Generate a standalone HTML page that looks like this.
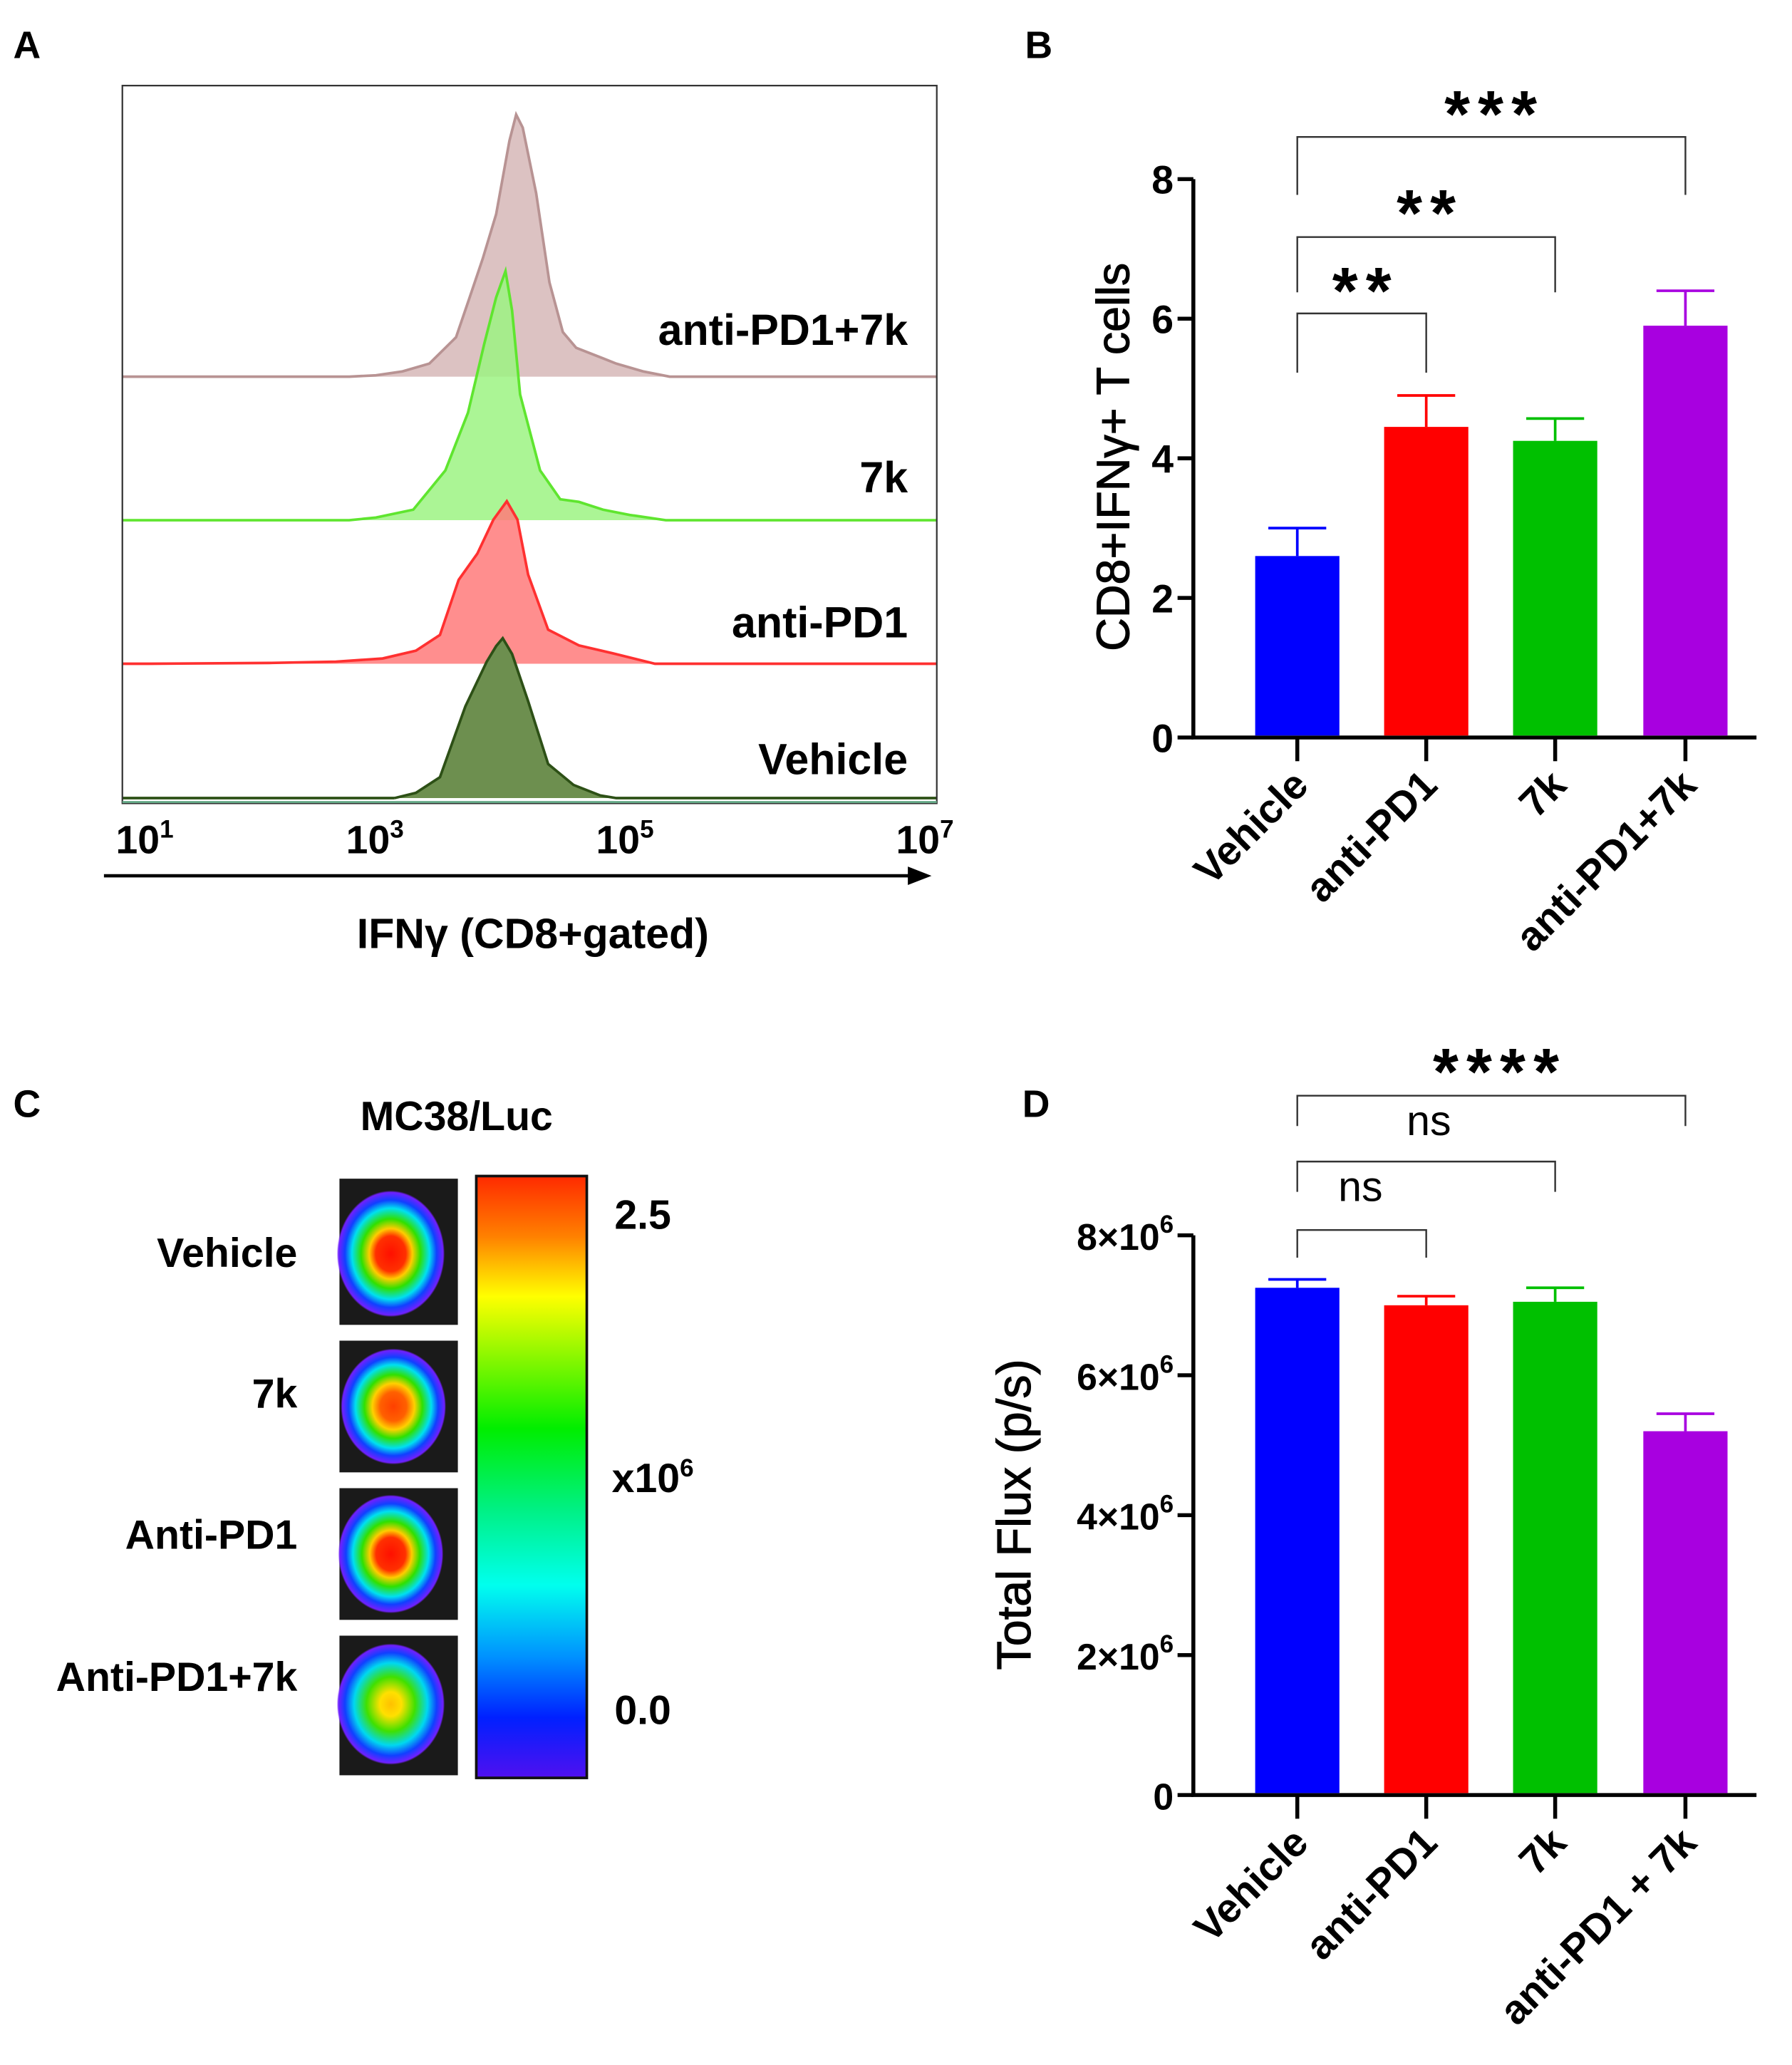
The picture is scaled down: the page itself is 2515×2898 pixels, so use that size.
<!DOCTYPE html>
<html><head><meta charset="utf-8"><style>
html,body{margin:0;padding:0;background:#fff;}
svg{display:block;font-family:"Liberation Sans",Arial,sans-serif;font-weight:bold;}
</style></head><body>
<svg id="fig" width="2515" height="2898" viewBox="0 0 1362 1568" preserveAspectRatio="none" xmlns="http://www.w3.org/2000/svg">
<defs>
<linearGradient id="cbar" x1="0" y1="0" x2="0" y2="1">
<stop offset="0" stop-color="#ff2a00"/><stop offset="0.1" stop-color="#ff8000"/>
<stop offset="0.2" stop-color="#ffff00"/><stop offset="0.42" stop-color="#00ee00"/>
<stop offset="0.55" stop-color="#00f080"/><stop offset="0.68" stop-color="#00ffee"/>
<stop offset="0.8" stop-color="#0090ff"/><stop offset="0.9" stop-color="#0020ff"/>
<stop offset="1" stop-color="#5010f0"/></linearGradient>
<radialGradient id="t1" cx="0.5" cy="0.5" r="0.5">
<stop offset="0" stop-color="#ff1000"/><stop offset="0.28" stop-color="#ff3000"/><stop offset="0.4" stop-color="#ffcc00"/><stop offset="0.55" stop-color="#30e000"/><stop offset="0.72" stop-color="#00e0f0"/><stop offset="0.85" stop-color="#1040ff"/><stop offset="0.97" stop-color="#7020ff"/><stop offset="1" stop-color="#7020ff" stop-opacity="0"/></radialGradient>
<radialGradient id="t2" cx="0.5" cy="0.5" r="0.5">
<stop offset="0" stop-color="#ff4000"/><stop offset="0.25" stop-color="#ff6000"/><stop offset="0.4" stop-color="#ffd000"/><stop offset="0.55" stop-color="#30e000"/><stop offset="0.72" stop-color="#00e0f0"/><stop offset="0.85" stop-color="#1040ff"/><stop offset="0.97" stop-color="#7020ff"/><stop offset="1" stop-color="#7020ff" stop-opacity="0"/></radialGradient>
<radialGradient id="t4" cx="0.5" cy="0.5" r="0.5">
<stop offset="0" stop-color="#ffc000"/><stop offset="0.2" stop-color="#ffe000"/><stop offset="0.45" stop-color="#40e000"/><stop offset="0.68" stop-color="#00d8f0"/><stop offset="0.85" stop-color="#1040ff"/><stop offset="0.97" stop-color="#7020ff"/><stop offset="1" stop-color="#7020ff" stop-opacity="0"/></radialGradient>
</defs>

<!-- Panel A -->
<text x="10" y="44" font-size="29">A</text>
<g id="histA"></g>
<rect x="93" y="65" width="619" height="545" fill="none" stroke="#333" stroke-width="1.2"/>
<line x1="93" y1="609" x2="712" y2="609" stroke="#6a8" stroke-width="1.5"/>
<g font-size="30">
<text x="88" y="648">10<tspan dy="-12" font-size="19">1</tspan></text>
<text x="263" y="648">10<tspan dy="-12" font-size="19">3</tspan></text>
<text x="453" y="648">10<tspan dy="-12" font-size="19">5</tspan></text>
<text x="681" y="648">10<tspan dy="-12" font-size="19">7</tspan></text>
</g>
<line x1="79" y1="665" x2="695" y2="665" stroke="#000" stroke-width="2.5"/>
<polygon points="708,665 690,658 690,672" fill="#000"/>
<text x="405" y="720" font-size="32" text-anchor="middle">IFNγ (CD8+gated)</text>
<g font-size="33" text-anchor="end">
<text x="690" y="262">anti-PD1+7k</text>
<text x="690" y="374">7k</text>
<text x="690" y="484">anti-PD1</text>
<text x="690" y="588">Vehicle</text>
</g>

<!-- Panel B -->
<text x="779" y="44" font-size="29">B</text>
<g id="chartB"></g>
<text transform="translate(858,347) rotate(-90)" font-size="35" text-anchor="middle" style="font-weight:normal;stroke:#000;stroke-width:0.6">CD8+IFNγ+ T cells</text>

<!-- Panel C -->
<text x="10" y="848" font-size="29">C</text>
<text x="347" y="858" font-size="31" text-anchor="middle">MC38/Luc</text>
<g font-size="31" text-anchor="end">
<text x="226" y="962">Vehicle</text>
<text x="226" y="1069">7k</text>
<text x="226" y="1176">Anti-PD1</text>
<text x="226" y="1284">Anti-PD1+7k</text>
</g>
<g>
<rect x="258" y="895" width="90" height="111" fill="#1a1a1a"/>
<ellipse cx="297" cy="952" rx="41" ry="48" fill="url(#t1)"/>
<rect x="258" y="1018" width="90" height="100" fill="#1a1a1a"/>
<ellipse cx="299" cy="1068" rx="40" ry="44" fill="url(#t2)"/>
<rect x="258" y="1130" width="90" height="100" fill="#1a1a1a"/>
<ellipse cx="297" cy="1180" rx="40" ry="45" fill="url(#t1)"/>
<rect x="258" y="1242" width="90" height="106" fill="#1a1a1a"/>
<ellipse cx="297" cy="1294" rx="41" ry="46" fill="url(#t4)"/>
</g>
<rect x="362" y="893" width="84" height="457" fill="url(#cbar)" stroke="#111" stroke-width="2"/>
<g font-size="31">
<text x="467" y="933">2.5</text>
<text x="465" y="1133">x10<tspan dy="-12" font-size="19">6</tspan></text>
<text x="467" y="1309">0.0</text>
</g>

<!-- Panel D -->
<text x="777" y="848" font-size="29">D</text>
<g id="chartD"></g>
<text transform="translate(783,1150) rotate(-90)" font-size="36" text-anchor="middle" style="font-weight:normal;stroke:#000;stroke-width:0.6">Total Flux (p/s)</text>
</svg>

<script>
// ---- Panel A histogram data (x in log10 units, y in % of max count) ----
const histNames = ["anti-PD1+7k", "7k", "anti-PD1", "Vehicle"];
const histL1 = [2.6,2.8,3.0,3.2,3.4,3.5,3.6,3.7,3.8,3.85,3.9,4.0,4.1,4.2,4.3,4.4,4.5,4.6,4.8,5.0];
const histH1 = [0,0.5,2,5,15,30,45,62,90,100,95,70,36,17,11,9,7,5,2,0];
const histL2 = [2.6,2.8,3.08,3.32,3.49,3.61,3.7,3.77,3.82,3.88,4.03,4.18,4.32,4.5,4.7,4.97];
const histH2 = [0,1,4,19,41,67,85,95,80,48,19,8,7,4,2,0];
const histL3 = [1.1,2.0,2.5,2.85,3.1,3.28,3.42,3.56,3.68,3.78,3.86,3.94,4.09,4.32,4.57,4.89];
const histH3 = [0,0.3,0.8,2,5,11,32,42,55,62,55,34,13,7,4,0];
const histL4 = [2.94,3.1,3.28,3.47,3.63,3.7,3.75,3.82,3.94,4.09,4.28,4.48,4.6];
const histH4 = [0,2,8,35,52,58,61,55,37,13,5,1,0];
const histBase = [286, 395, 504, 606];
const histFill = ["#d6b7b7","#9cf382","#ff7a7a","#6d8f4f"];
const histStroke = ["#b89393","#5fe52f","#ff3030","#2d5016"];

const NS = "http://www.w3.org/2000/svg";
function mk(tag, attrs, parent){const e=document.createElementNS(NS,tag);for(const k in attrs)e.setAttribute(k,attrs[k]);parent.appendChild(e);return e;}
const xLog = L => 103 + (L-1)*101.5;
const yH = (h, base) => base - h*1.99;
const gA = document.getElementById("histA");
const hL=[histL1,histL2,histL3,histL4], hH=[histH1,histH2,histH3,histH4];
for(let i=0;i<4;i++){
  let d=`M93,${histBase[i]} L${xLog(hL[i][0])},${histBase[i]}`;
  for(let j=0;j<hL[i].length;j++) d+=` L${xLog(hL[i][j]).toFixed(1)},${yH(hH[i][j],histBase[i]).toFixed(1)}`;
  d+=` L712,${histBase[i]}`;
  const p=mk("path",{d:d+" Z",fill:histFill[i],"fill-opacity":i==3?1:0.85,stroke:"none"},gA);
  
  
  const l=mk("path",{d:d,fill:"none",stroke:histStroke[i],"stroke-width":2},gA);
  
  
}

// ---- Panel B data ----
const catsB = ["Vehicle","anti-PD1","7k","anti-PD1+7k"];
const valsB = [2.6, 4.45, 4.25, 5.9];
const errB = [0.4, 0.45, 0.32, 0.5];
const ticksB = [0,2,4,6,8];
const tickLabelsB = ["0","2","4","6","8"];
// ---- Panel D data ----
const catsD = ["Vehicle","anti-PD1","7k","anti-PD1 + 7k"];
const valsD = [7.25, 7.0, 7.05, 5.2];
const errD = [0.12, 0.13, 0.2, 0.25];
const ticksD = [0,2,4,6,8];
const tickLabelsD = ["0","2×10","4×10","6×10","8×10"];

const barColors = ["#0000ff","#ff0000","#00c000","#a800e0"];
const barX = [986,1084,1182,1281];

function drawBar(gid, cats, vals, errs, ticks, tlab, y0, y8, sup, brackets, labelSize, tickSize){
  const g=document.getElementById(gid);
  const ys = v => y0 - (v/8)*(y0-y8);
  const ya=mk("line",{x1:907,y1:y8,x2:907,y2:y0,stroke:"#000","stroke-width":3},g);
  
  
  const xa=mk("line",{x1:905.5,y1:y0,x2:1335,y2:y0,stroke:"#000","stroke-width":3},g);
  
  
  ticks.forEach((t,i)=>{
    mk("line",{x1:895,y1:ys(t),x2:907,y2:ys(t),stroke:"#000","stroke-width":3},g);
    const tx=mk("text",{x:892,y:ys(t)+11,"font-size":tickSize,"text-anchor":"end"},g);
    tx.textContent=tlab[i];
    if(sup && t>0){const ts=mk("tspan",{dy:-13,"font-size":19},tx);ts.textContent="6";}
    
    
  });
  cats.forEach((c,i)=>{
    const x=barX[i], col=barColors[i];
    const top=ys(vals[i]), et=ys(vals[i]+errs[i]);
    mk("line",{x1:x,y1:top,x2:x,y2:et,stroke:col,"stroke-width":2},g);
    const cap=mk("line",{x1:x-22,y1:et,x2:x+22,y2:et,stroke:col,"stroke-width":2},g);
    
    
    const r=mk("rect",{x:x-32,y:top,width:64,height:y0-top-1.5,fill:col},g);
    
    
    mk("line",{x1:x,y1:y0,x2:x,y2:y0+18,stroke:"#000","stroke-width":3},g);
    const lb=mk("text",{transform:`translate(${x+10},${y0+38}) rotate(-45)`,"font-size":labelSize,"text-anchor":"end"},g);
    lb.textContent=c;
    
    
  });
  brackets.forEach(b=>{
    const pl=mk("polyline",{points:`${barX[0]},${b.yl} ${barX[0]},${b.y} ${barX[b.to]},${b.y} ${barX[b.to]},${b.yr}`,fill:"none",stroke:"#333","stroke-width":1.3},g);
    
    
    const t=mk("text",{x:b.tx,y:b.ty,"font-size":b.fs,"text-anchor":"middle","font-weight":b.bold?"bold":"normal","letter-spacing":b.ls},g);
    t.textContent=b.t;
    
    
  });
}
drawBar("chartB",catsB,valsB,errB,ticksB,tickLabelsB,560,136,false,[
  {to:3,y:104,yl:148,yr:148,t:"***",tx:1136,ty:104,fs:50,bold:true,ls:6},
  {to:2,y:180,yl:222,yr:222,t:"**",tx:1087,ty:179,fs:50,bold:true,ls:6},
  {to:1,y:238,yl:283,yr:283,t:"**",tx:1038,ty:238,fs:50,bold:true,ls:6}
],31,30);
drawBar("chartD",catsD,valsD,errD,ticksD,tickLabelsD,1363,938,true,[
  {to:3,y:832,yl:855,yr:855,t:"****",tx:1140,ty:831,fs:50,bold:true,ls:6},
  {to:2,y:882,yl:905,yr:905,t:"ns",tx:1086,ty:862,fs:32,bold:false,ls:0},
  {to:1,y:934,yl:955,yr:955,t:"ns",tx:1034,ty:912,fs:32,bold:false,ls:0}
],31,28);
</script>
</body></html>
